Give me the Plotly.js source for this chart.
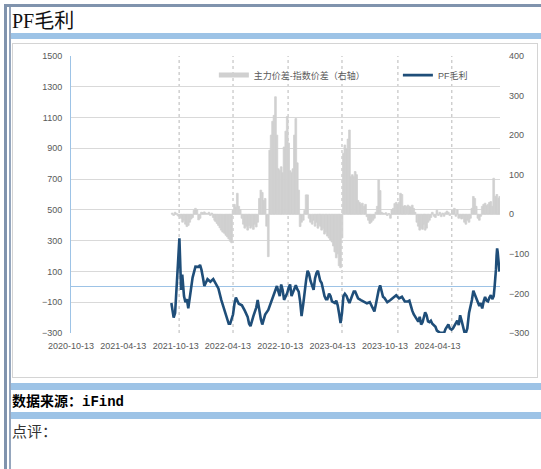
<!DOCTYPE html>
<html>
<head>
<meta charset="utf-8">
<script src="https://cdn.plot.ly/plotly-3.0.1.min.js"></script>
<style>
  html, body { margin:0; padding:0; background:#fff; }
  body { width:541px; height:469px; overflow:hidden; position:relative; }
  .f { position:absolute; }
</style>
</head>
<body>
<div class="f" style="left:4px;top:4px;width:537px;height:3px;background:#8093ad"></div>
<div class="f" style="left:4px;top:4px;width:3px;height:465px;background:#8093ad"></div>
<div class="f" style="left:9px;top:7px;width:2px;height:462px;background:#95a6bd"></div>
<div class="f" style="left:12px;top:9px;font-family:'Liberation Serif','Noto Sans CJK SC',serif;font-size:20px;line-height:24px;color:#111">PF毛利</div>
<div class="f" style="left:11px;top:33px;width:530px;height:6px;background:#9dc3e6"></div>
<div class="f" style="left:12px;top:43px;width:524px;height:333px;border:1px solid #d4d4d4"></div>
<div class="f" style="left:11px;top:383px;width:530px;height:7px;background:#9dc3e6"></div>
<div class="f" style="left:12px;top:393px;font-family:'Liberation Mono','Noto Sans CJK SC',monospace;font-weight:bold;font-size:14px;line-height:18px;color:#000">数据来源：iFind</div>
<div class="f" style="left:11px;top:412px;width:530px;height:7px;background:#9dc3e6"></div>
<div class="f" style="left:12px;top:421px;font-family:'Noto Sans CJK SC',sans-serif;font-size:15px;line-height:20px;color:#333">点评：</div>
<div id="chart" class="f" style="left:0;top:0;width:541px;height:469px"></div>
<script>
const lineName = 'PF毛利';
const barName = '主力价差-指数价差（右轴）';
const xTickDates = ['2020-10-13','2021-04-13','2021-10-13','2022-04-13','2022-10-13','2023-04-13','2023-10-13','2024-04-13'];
const gridDates = ['2021-10-25','2022-05-01','2022-11-09','2023-05-16','2023-11-27','2024-06-02'];
const leftTicks = [-300,-100,100,300,500,700,900,1100,1300,1500];
const rightTicks = [-300,-200,-100,0,100,200,300,400];

const lineDates = [
'2021-09-28','2021-10-01','2021-10-06','2021-10-11','2021-10-16','2021-10-21','2021-10-26',
'2021-11-01','2021-11-05','2021-11-11','2021-11-16','2021-11-21','2021-11-26',
'2021-12-01','2021-12-06','2021-12-11','2021-12-21',
'2022-01-01','2022-01-06','2022-01-11','2022-01-16','2022-01-21',
'2022-02-01','2022-02-11','2022-02-21',
'2022-03-01','2022-03-11','2022-03-21',
'2022-04-01','2022-04-11','2022-04-16','2022-04-21',
'2022-05-01','2022-05-06','2022-05-11','2022-05-21',
'2022-06-01','2022-06-11','2022-06-21','2022-06-26',
'2022-07-01','2022-07-11','2022-07-21','2022-07-26',
'2022-08-01','2022-08-06','2022-08-11','2022-08-21',
'2022-09-01','2022-09-11','2022-09-21',
'2022-10-01','2022-10-06','2022-10-11','2022-10-16','2022-10-21','2022-10-26',
'2022-11-01','2022-11-06','2022-11-11','2022-11-16','2022-11-21','2022-11-26',
'2022-12-01','2022-12-06','2022-12-11','2022-12-16','2022-12-21','2022-12-26',
'2023-01-01','2023-01-06','2023-01-11','2023-01-16','2023-01-21','2023-01-26',
'2023-02-01','2023-02-06','2023-02-11','2023-02-16','2023-02-21','2023-02-26',
'2023-03-01','2023-03-06','2023-03-11','2023-03-16','2023-03-21','2023-03-26',
'2023-04-01','2023-04-06','2023-04-11','2023-04-21','2023-04-26',
'2023-05-01','2023-05-06','2023-05-11','2023-05-16','2023-05-21','2023-05-26',
'2023-06-01','2023-06-06','2023-06-11','2023-06-21','2023-06-26',
'2023-07-01','2023-07-11','2023-07-21',
'2023-08-01','2023-08-11','2023-08-21',
'2023-09-01','2023-09-06','2023-09-11','2023-09-16','2023-09-21','2023-09-26',
'2023-10-01','2023-10-06','2023-10-11','2023-10-21',
'2023-11-01','2023-11-11','2023-11-21',
'2023-12-01','2023-12-11','2023-12-21',
'2024-01-01','2024-01-06','2024-01-11','2024-01-16','2024-01-21',
'2024-02-01','2024-02-06','2024-02-11','2024-02-16','2024-02-21','2024-02-26',
'2024-03-01','2024-03-06','2024-03-11','2024-03-16','2024-03-21','2024-03-26',
'2024-04-01','2024-04-06','2024-04-11','2024-04-21','2024-04-26',
'2024-05-01','2024-05-06','2024-05-11','2024-05-16','2024-05-21','2024-05-26',
'2024-06-01','2024-06-06','2024-06-11','2024-06-16','2024-06-21','2024-06-26',
'2024-07-01','2024-07-06','2024-07-11','2024-07-16','2024-07-21','2024-07-26',
'2024-08-01','2024-08-06','2024-08-11','2024-08-16','2024-08-21','2024-08-26',
'2024-09-01','2024-09-06','2024-09-11','2024-09-16','2024-09-21','2024-09-26',
'2024-10-01','2024-10-06','2024-10-11','2024-10-16','2024-10-21','2024-10-26','2024-10-29',
'2024-11-01','2024-11-03','2024-11-05','2024-11-07','2024-11-09','2024-11-11','2024-11-13','2024-11-15'
];
const lineValues = [
-105,-140,-200,-170,-40,150,315,
-20,80,-60,-100,-80,-140,
-70,-30,60,131,
130,142,110,60,5,
50,33,50,
20,-10,-85,
-150,-210,-240,-240,
-180,-110,-70,-110,
-120,-155,-195,-240,
-255,-190,-135,-86,
-165,-210,-245,-180,
-150,-95,-35,
5,-30,-60,15,-20,-85,
-65,-40,-5,15,-60,-35,
-10,10,-15,-31,-95,-190,
-110,-10,45,105,85,40,
0,-20,55,90,105,50,
40,25,-20,-60,-80,-80,
-45,-60,-95,-105,-90,
-120,-175,-235,-170,-60,-45,
-60,-85,-105,-55,-30,
-30,-75,-86,
-95,-107,-100,
-145,-160,-115,-60,-20,10,
-30,-65,-72,-100,
-86,-70,-55,
-75,-65,-95,
-95,-90,-129,-155,-178,
-210,-226,-195,-245,-230,-185,
-165,-185,-225,-230,-220,-240,
-255,-260,-285,-298,-298,
-299,-299,-275,-255,-245,-270,
-278,-270,-250,-230,-220,-248,
-185,-220,-265,-295,-299,-270,
-170,-130,-86,-25,-50,-75,
-110,-125,-105,-140,-95,-65,
-90,-95,-70,-55,-80,-60,-3,
60,115,200,250,225,160,120,99
];

const barDates = [
'2021-10-01','2021-10-06','2021-10-11','2021-10-16','2021-10-21','2021-10-26',
'2021-11-01','2021-11-06','2021-11-11','2021-11-16','2021-11-21','2021-11-26',
'2021-12-01','2021-12-06','2021-12-11','2021-12-16','2021-12-21','2021-12-26',
'2022-01-01','2022-01-06','2022-01-11','2022-01-16','2022-01-21','2022-01-26',
'2022-02-01','2022-02-06','2022-02-11','2022-02-16','2022-02-21','2022-02-26',
'2022-03-01','2022-03-06','2022-03-11','2022-03-16','2022-03-21','2022-03-26',
'2022-04-01','2022-04-06','2022-04-11','2022-04-16','2022-04-21','2022-04-26',
'2022-05-01','2022-05-06','2022-05-11','2022-05-16','2022-05-21','2022-05-26',
'2022-06-01','2022-06-06','2022-06-11','2022-06-16','2022-06-21','2022-06-26',
'2022-07-01','2022-07-06','2022-07-11','2022-07-16','2022-07-21','2022-07-26',
'2022-08-01','2022-08-06','2022-08-11','2022-08-16','2022-08-21','2022-08-26',
'2022-09-01','2022-09-06','2022-09-11','2022-09-16','2022-09-21','2022-09-26',
'2022-10-01','2022-10-06','2022-10-11','2022-10-16','2022-10-21','2022-10-26',
'2022-11-01','2022-11-06','2022-11-11','2022-11-16','2022-11-21','2022-11-26',
'2022-12-01','2022-12-06','2022-12-11','2022-12-16','2022-12-21','2022-12-26',
'2023-01-01','2023-01-06','2023-01-11','2023-01-16','2023-01-21','2023-01-26',
'2023-02-01','2023-02-06','2023-02-11','2023-02-16','2023-02-21','2023-02-26',
'2023-03-01','2023-03-06','2023-03-11','2023-03-16','2023-03-21','2023-03-26',
'2023-04-01','2023-04-06','2023-04-11','2023-04-16','2023-04-21','2023-04-26',
'2023-05-01','2023-05-06','2023-05-11','2023-05-16','2023-05-21','2023-05-26',
'2023-06-01','2023-06-06','2023-06-11','2023-06-16','2023-06-21','2023-06-26',
'2023-07-01','2023-07-06','2023-07-11','2023-07-16','2023-07-21','2023-07-26',
'2023-08-01','2023-08-06','2023-08-11','2023-08-16','2023-08-21','2023-08-26',
'2023-09-01','2023-09-06','2023-09-11','2023-09-16','2023-09-21','2023-09-26',
'2023-10-01','2023-10-06','2023-10-11','2023-10-16','2023-10-21','2023-10-26',
'2023-11-01','2023-11-06','2023-11-11','2023-11-16','2023-11-21','2023-11-26',
'2023-12-01','2023-12-06','2023-12-11','2023-12-16','2023-12-21','2023-12-26',
'2024-01-01','2024-01-06','2024-01-11','2024-01-16','2024-01-21','2024-01-26',
'2024-02-01','2024-02-06','2024-02-11','2024-02-16','2024-02-21','2024-02-26',
'2024-03-01','2024-03-06','2024-03-11','2024-03-16','2024-03-21','2024-03-26',
'2024-04-01','2024-04-06','2024-04-11','2024-04-16','2024-04-21','2024-04-26',
'2024-05-01','2024-05-06','2024-05-11','2024-05-16','2024-05-21','2024-05-26',
'2024-06-01','2024-06-06','2024-06-11','2024-06-16','2024-06-21','2024-06-26',
'2024-07-01','2024-07-06','2024-07-11','2024-07-16','2024-07-21','2024-07-26',
'2024-08-01','2024-08-06','2024-08-11','2024-08-16','2024-08-21','2024-08-26',
'2024-09-01','2024-09-06','2024-09-11','2024-09-16','2024-09-21','2024-09-26',
'2024-10-01','2024-10-06','2024-10-11','2024-10-16','2024-10-21','2024-10-26',
'2024-11-01','2024-11-06','2024-11-11','2024-11-16'
];
const barValues = [
3,-3,5,2,-4,-6,
-10,-20,-15,-25,-31,-28,
-20,-12,-8,10,15,12,
-14,-10,5,4,6,3,
2,5,-3,3,-8,-15,
-18,-23,-28,-34,-40,-45,
-48,-53,-57,-62,-68,-72,
10,25,18,53,20,12,
-10,-25,-35,-30,-40,-28,
-35,-30,-38,-25,-32,-20,
40,61,55,35,40,-30,
-107,162,200,235,250,297,
200,115,110,120,105,170,
210,247,180,110,105,115,
200,242,130,61,-31,-20,
-15,10,49,49,-10,-20,
-25,-15,-30,-20,-35,-25,
-30,-40,-35,-50,-45,-55,
-60,-65,-70,-80,-95,-110,
-100,-130,-135,-60,154,175,
165,190,213,95,100,95,
108,100,35,30,25,28,
20,25,-6,-15,-23,-20,
-15,-10,5,20,87,60,
5,3,2,4,-3,2,
-10,12,15,27,30,25,
30,53,50,20,22,20,
23,20,18,23,15,5,
-20,-30,-40,-35,-38,-25,
-40,-35,-20,-15,-8,5,
-5,-8,10,-3,5,-6,
3,-5,4,8,5,-3,
2,10,15,-5,12,-10,
-8,-12,-10,-20,-25,-15,
-20,-10,15,45,40,20,
-10,-15,-5,20,25,28,
22,25,30,32,20,91,
45,50,40,45
];

const FONT = 'Liberation Sans, Arial, Noto Sans CJK SC, sans-serif';
const GRAY = '#595959';
const BARGRAY = '#d0d0d0';
const xRange = ['2020-10-13','2024-11-17'];

const traces = [
  {type:'bar', x:barDates, y:barValues, xaxis:'x', yaxis:'y',
   marker:{color:BARGRAY, line:{color:BARGRAY, width:0.8}}, width:6*86400000,
   showlegend:false, name:barName, hoverinfo:'skip'},
  {type:'scatter', mode:'lines', x:[null], y:[null], xaxis:'x', yaxis:'y',
   line:{color:BARGRAY, width:5}, name:barName, legend:'legend', showlegend:true},
  {type:'scatter', mode:'lines', x:lineDates, y:lineValues, xaxis:'x', yaxis:'y2',
   line:{color:'#1f4e79', width:2.6}, name:lineName, legend:'legend2', showlegend:true}
];

const shapes = gridDates.map(d => ({type:'line', xref:'x', yref:'paper', x0:d, x1:d, y0:0, y1:1,
  layer:'below', line:{color:'#b8b8b8', width:1, dash:'dot'}}));

const layout = {
  width:541, height:469,
  margin:{l:71, r:41, t:56, b:136, pad:0},
  paper_bgcolor:'rgba(0,0,0,0)', plot_bgcolor:'rgba(0,0,0,0)',
  font:{family:FONT, size:9, color:GRAY},
  bargap:0,
  showlegend:true,
  xaxis:{type:'date', range:xRange, tickmode:'array', tickvals:xTickDates, ticktext:xTickDates,
    showgrid:false, zeroline:false, showline:false, ticks:'', tickangle:0,
    tickfont:{family:FONT, size:9, color:GRAY}, ticklabelstandoff:6, fixedrange:true},
  yaxis:{side:'right', range:[-300,400], tickmode:'array', tickvals:rightTicks,
    showgrid:false, zeroline:false, showline:false, ticks:'',
    tickfont:{family:FONT, size:9, color:GRAY}, ticklabelstandoff:8},
  yaxis2:{side:'left', overlaying:'y', range:[-300,1500], tickmode:'array', tickvals:leftTicks,
    showgrid:true, gridcolor:'#d9d9d9', gridwidth:1,
    zeroline:true, zerolinecolor:'#9dc3e6', zerolinewidth:1.3,
    showline:true, linecolor:'#9dc3e6', linewidth:1, ticks:'',
    tickfont:{family:FONT, size:9, color:GRAY}, ticklabelstandoff:6},
  shapes: shapes,
  legend:{orientation:'h', x:0.333, xanchor:'left', y:0.931, yanchor:'middle',
    bgcolor:'rgba(0,0,0,0)', font:{family:FONT, size:9, color:GRAY}},
  legend2:{orientation:'h', x:0.762, xanchor:'left', y:0.931, yanchor:'middle',
    bgcolor:'rgba(0,0,0,0)', font:{family:FONT, size:9, color:GRAY}}
};

Plotly.newPlot('chart', traces, layout, {staticPlot:true, displayModeBar:false});
</script>
</body>
</html>
